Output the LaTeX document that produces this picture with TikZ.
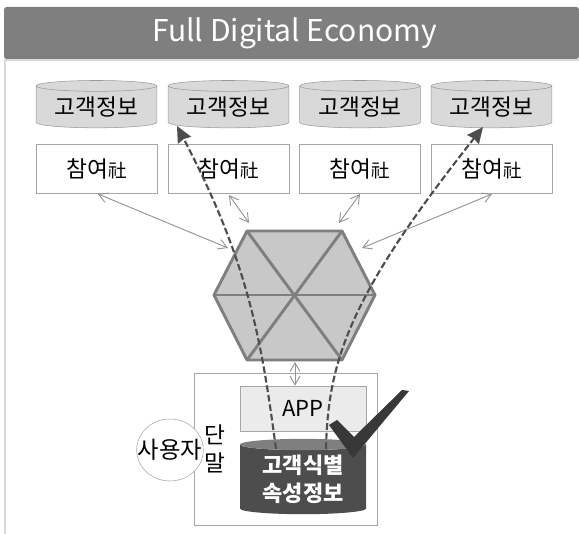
\documentclass[tikz,border=0pt]{standalone}
\usepackage{fontspec}
\setmainfont{Noto Sans CJK KR}
\usetikzlibrary{positioning,arrows.meta,shapes.geometric}
\definecolor{headgray}{HTML}{7F7F7F}
\definecolor{linegray}{HTML}{A6A6A6}
\definecolor{cylgray}{HTML}{D9D9D9}
\definecolor{hexgray}{HTML}{C8C8C8}
\definecolor{darkgray}{HTML}{4D4D4D}
\tikzset{
    datacyl/.style={cylinder, shape border rotate=90, aspect=0.13, draw=headgray!80, fill=cylgray, minimum width=90.5pt, minimum height=35.5pt, inner sep=0pt, font=\fontsize{17pt}{20pt}\selectfont},
    partbox/.style={draw=linegray, fill=white, minimum width=90.5pt, minimum height=36.5pt, inner sep=0pt, font=\fontsize{17pt}{20pt}\selectfont},
    hexline/.style={draw=headgray, line width=2.2pt, line join=round},
    link/.style={draw=linegray!90!black, line width=0.7pt, {Straight Barb[length=6.5pt,width=7.5pt]}-{Straight Barb[length=6.5pt,width=7.5pt]}},
    flow/.style={draw=darkgray, line width=1.6pt, dash pattern=on 5pt off 2.2pt, -{Stealth[inset=1pt,length=12pt,width=11pt]}}
}
\begin{document}
\begin{tikzpicture}[x=0.75pt, y=-0.75pt]
    \useasboundingbox (0,0) rectangle (579,534);
    % header and frame
    \fill[white] (0,0) rectangle (579,534);
    \draw[cylgray, line width=1pt] (5,59) -- (5,534);
    \draw[cylgray, line width=1pt] (5,60) -- (579,60);
    \fill[headgray, rounded corners=2pt] (4,59) -- (4,7) -- (579,7) -- (579,59) -- cycle;
    \node[text=white, font=\fontsize{22.5pt}{27pt}\selectfont] (title) at (294.5,33) {Full Digital Economy};
    % customer data
    \node[datacyl] (cyl1) at (96.5,107) {고객정보};
    \node[datacyl] (cyl2) at (228.5,107) {고객정보};
    \node[datacyl] (cyl3) at (360,107) {고객정보};
    \node[datacyl] (cyl4) at (491.5,107) {고객정보};
    % participants
    \node[partbox] (part1) at (96.5,168.5) {참여{\fontsize{14pt}{16pt}\selectfont 社}};
    \node[partbox] (part2) at (228.5,168.5) {참여{\fontsize{14pt}{16pt}\selectfont 社}};
    \node[partbox] (part3) at (360,168.5) {참여{\fontsize{14pt}{16pt}\selectfont 社}};
    \node[partbox] (part4) at (491.5,168.5) {참여{\fontsize{14pt}{16pt}\selectfont 社}};
    % hexagon
    \coordinate (hexA) at (247,231);
    \coordinate (hexB) at (342,231);
    \coordinate (hexC) at (375,295);
    \coordinate (hexD) at (342,360);
    \coordinate (hexE) at (247,360);
    \coordinate (hexF) at (214,295);
    \filldraw[hexline, fill=hexgray] (hexA) -- (hexB) -- (hexC) -- (hexD) -- (hexE) -- (hexF) -- cycle;
    \draw[hexline] (hexA) -- (hexD);
    \draw[hexline] (hexB) -- (hexE);
    \draw[hexline] (hexF) -- (hexC);
    % terminal
    \node[draw=linegray, fill=white, minimum width=137pt, minimum height=114pt, inner sep=0pt] (term) at (285.5,449) {};
    \node[draw=linegray, fill=black!8, minimum width=94.5pt, minimum height=33.75pt, inner sep=0pt, font=\fontsize{16.5pt}{20pt}\selectfont] (app) at (303,408.5) {APP};
    \node[cylinder, shape border rotate=90, aspect=0.14, draw=none, cylinder uses custom fill, cylinder body fill=darkgray, cylinder end fill=headgray, minimum width=94.5pt, minimum height=56.5pt, inner sep=0pt, text=white, align=center, font=\fontsize{16.5pt}{21pt}\selectfont] (info) at (303,479.5) {\textbf{고객식별}\\\textbf{속성정보}};
    \node[draw=linegray, fill=white, ellipse, minimum width=50pt, minimum height=46.5pt, inner sep=0pt, font=\fontsize{17.5pt}{20pt}\selectfont] (user) at (170,450) {\makebox[0pt]{사용자}};
    \node[align=center, inner sep=0pt, font=\fontsize{17pt}{21pt}\selectfont] (termlabel) at (215,449) {단\\말};
    % arrows
    \coordinate (linkA) at (228,248);
    \coordinate (linkB) at (249,223);
    \coordinate (linkC) at (339,223);
    \coordinate (linkD) at (362,248);
    \coordinate (partA) at (98,194);
    \coordinate (partB) at (229,195);
    \coordinate (partC) at (360,194);
    \coordinate (partD) at (492,194);
    \draw[link] (partA) -- (linkA);
    \draw[link] (partB) -- (linkB);
    \draw[link] (partC) -- (linkC);
    \draw[link] (partD) -- (linkD);
    \coordinate (hexBottom) at (295,362);
    \draw[link] (hexBottom) -- (app.north -| hexBottom);
    % dashed flows
    \coordinate (startL) at (276,449);
    \coordinate (startR) at (326,449);
    \coordinate (endL) at (177,126);
    \coordinate (endR) at (483,127);
    \draw[flow] (startL) .. controls (262,345) and (250,265) .. (endL);
    \draw[flow] (startR) .. controls (328,360) and (350,295) .. (endR);
    % check mark
    \fill[black!78, line join=round] (409,391) -- (402,390) -- (354,437) -- (337,420) -- (329,425) -- (353,458) -- cycle;
\end{tikzpicture}
\end{document}
